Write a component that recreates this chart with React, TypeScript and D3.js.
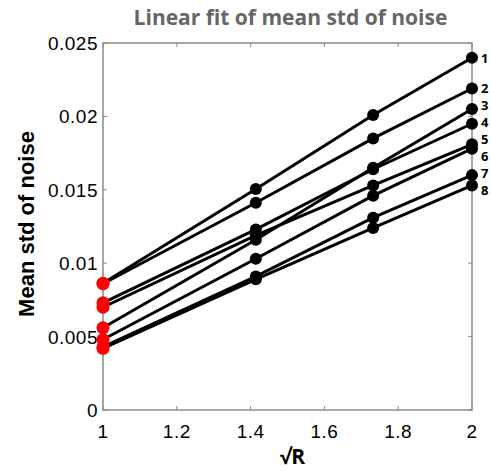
import React, { useRef, useEffect } from 'react'
import * as d3 from 'd3'

// sqrt(R) positions of the four measurements
const xValues = [1, Math.SQRT2, Math.sqrt(3), 2]
const seriesNames = ['1', '2', '3', '4', '5', '6', '7', '8']
// mean std of noise for each series, in xValues order
const series1 = [0.00863, 0.01505, 0.0201, 0.0240]
const series2 = [0.0086, 0.01412, 0.0185, 0.0219]
const series3 = [0.0056, 0.0116, 0.0165, 0.0205]
const series4 = [0.0073, 0.0123, 0.0164, 0.0195]
const series5 = [0.0070, 0.0119, 0.0153, 0.0181]
const series6 = [0.0048, 0.0103, 0.0146, 0.0178]
const series7 = [0.0043, 0.0091, 0.0131, 0.0160]
const series8 = [0.0042, 0.0089, 0.0124, 0.0153]
const allSeries = [series1, series2, series3, series4, series5, series6, series7, series8]

const xTicks = [1, 1.2, 1.4, 1.6, 1.8, 2]
const yTicks = [0, 0.005, 0.01, 0.015, 0.02, 0.025]

const W = 491
const H = 471
const margin = { top: 43, right: 19, bottom: 61, left: 103 }

export default function App() {
  const svgRef = useRef<SVGSVGElement>(null)

  useEffect(() => {
    const svg = d3.select(svgRef.current)
    svg.selectAll('*').remove()

    const x = d3.scaleLinear().domain([1, 2]).range([margin.left, W - margin.right])
    const y = d3.scaleLinear().domain([0, 0.025]).range([H - margin.bottom, margin.top])
    const axisColor = '#8a8a8a'
    const tickFont = '"Liberation Sans", Arial, sans-serif'

    // box
    svg.append('rect')
      .attr('x', x(1)).attr('y', y(0.025))
      .attr('width', x(2) - x(1)).attr('height', y(0) - y(0.025))
      .attr('fill', 'white').attr('stroke', axisColor).attr('stroke-width', 1.5)

    // ticks (inward, on all four sides)
    const tl = 4
    xTicks.forEach(t => {
      svg.append('line').attr('x1', x(t)).attr('x2', x(t)).attr('y1', y(0)).attr('y2', y(0) - tl)
        .attr('stroke', axisColor)
      svg.append('line').attr('x1', x(t)).attr('x2', x(t)).attr('y1', y(0.025)).attr('y2', y(0.025) + tl)
        .attr('stroke', axisColor)
    })
    yTicks.forEach(t => {
      svg.append('line').attr('x1', x(1)).attr('x2', x(1) + tl).attr('y1', y(t)).attr('y2', y(t))
        .attr('stroke', axisColor)
      svg.append('line').attr('x1', x(2)).attr('x2', x(2) - tl).attr('y1', y(t)).attr('y2', y(t))
        .attr('stroke', axisColor)
    })

    // tick labels
    svg.append('g').selectAll('text').data(xTicks).join('text')
      .attr('x', d => x(d)).attr('y', y(0) + 28)
      .attr('text-anchor', 'middle')
      .attr('font-family', tickFont).attr('font-size', 19)
      .attr('letter-spacing', 0.5)
      .text(d => String(d))
    svg.append('g').selectAll('text').data(yTicks).join('text')
      .attr('x', x(1) - 5).attr('y', d => y(d) + 7)
      .attr('text-anchor', 'end')
      .attr('font-family', tickFont).attr('font-size', 19)
      .attr('letter-spacing', 0.5)
      .text(d => String(d))

    // lines
    const ln = d3.line<number>()
      .x((_, i) => x(xValues[i]))
      .y(d => y(d))
    svg.append('g').selectAll('path').data(allSeries).join('path')
      .attr('d', d => ln(d))
      .attr('fill', 'none').attr('stroke', 'black').attr('stroke-width', 3)

    // markers
    allSeries.forEach(s => {
      svg.append('g').selectAll('circle').data(s).join('circle')
        .attr('cx', (_, i) => x(xValues[i])).attr('cy', d => y(d))
        .attr('r', (_, i) => i === 0 ? 6.5 : 6)
        .attr('fill', (_, i) => i === 0 ? '#ff0000' : 'black')
    })

    // series labels at right end, spread to avoid overlap
    const minGap = 17
    const pos = allSeries.map(s => y(s[s.length - 1]))
    for (let k = 0; k < 50; k++) {
      for (let i = 1; i < pos.length; i++) {
        const gap = pos[i] - pos[i - 1]
        if (gap < minGap) {
          const push = (minGap - gap) / 2
          pos[i - 1] -= push
          pos[i] += push
        }
      }
    }
    svg.append('g').selectAll('text').data(seriesNames).join('text')
      .attr('x', x(2) + 9).attr('y', (_, i) => pos[i] + 5)
      .attr('font-family', '"Open Sans", sans-serif').attr('font-weight', 'bold')
      .attr('font-size', 13)
      .text(d => d)

    // title
    svg.append('text')
      .attr('x', (x(1) + x(2)) / 2 + 3).attr('y', 25)
      .attr('text-anchor', 'middle')
      .attr('font-family', '"Open Sans", sans-serif').attr('font-weight', 'bold')
      .attr('font-size', 21).attr('fill', '#666666')
      .text('Linear fit of mean std of noise')

    // axis titles
    svg.append('text')
      .attr('x', (x(1) + x(2)) / 2 + 5).attr('y', 464)
      .attr('text-anchor', 'middle')
      .attr('font-family', '"Open Sans", sans-serif').attr('font-weight', 'bold')
      .attr('font-size', 21)
      .text('√R')
    svg.append('text')
      .attr('transform', `translate(34, 224) rotate(-90)`)
      .attr('text-anchor', 'middle')
      .attr('font-family', '"Liberation Sans", Arial, sans-serif').attr('font-weight', 'bold')
      .attr('font-size', 22)
      .text('Mean std of noise')
  }, [])

  return (
    <svg ref={svgRef} width={W} height={H}
      style={{ position: 'absolute', left: 0, top: 0, background: 'white' }} />
  )
}
